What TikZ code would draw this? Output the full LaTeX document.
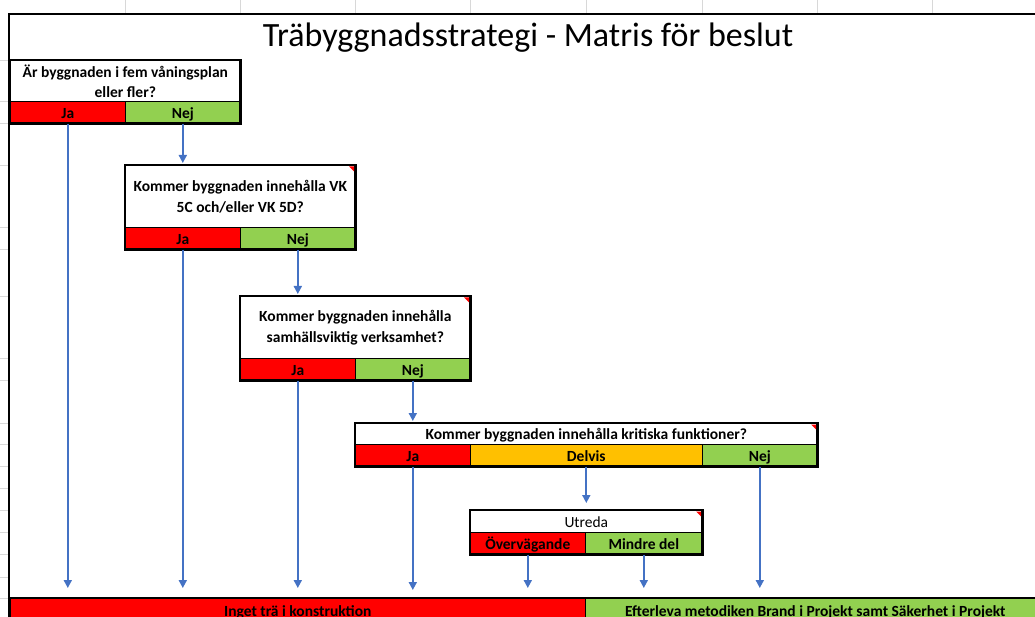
\documentclass[tikz,border=0pt]{standalone}
\usepackage{fontspec}
\setmainfont{Carlito}
\usetikzlibrary{arrows.meta,calc}
\definecolor{xred}{HTML}{FF0000}
\definecolor{xgreen}{HTML}{92D050}
\definecolor{xorange}{HTML}{FFC000}
\definecolor{xblue}{HTML}{4472C4}
\definecolor{xgrid}{HTML}{D8D8D8}
\begin{document}
\begin{tikzpicture}[x=1pt,y=-1pt,
 cell/.style={draw=black, line width=0.6pt, inner sep=0pt, anchor=north west,
   text height=12pt, text depth=0pt,
   font=\fontsize{15.5}{17}\selectfont\bfseries, text=black},
 qcell/.style={draw=black, line width=0.6pt, inner sep=0pt, anchor=north west,
   fill=white, align=center, text=black, font=\fontsize{15.5}{21}\selectfont\bfseries},
 frame/.style={draw=black, line width=2.4pt},
 arr/.style={draw=xblue, line width=1.8pt, -{Triangle[width=8pt,length=8pt]}},
 flag/.style={fill=xred},
 gridl/.style={draw=xgrid, line width=0.8pt}]
\useasboundingbox (0,0) rectangle (1035,617);
% spreadsheet grid ticks
\foreach \x in {125,240,355,470,586,702,817,932} \draw[gridl] (\x,0) -- (\x,13);
\foreach \y in {60,101,123,165,227,249,296,358,380,423,444,466,488,510,532,554,577,598} \draw[gridl] (0,\y) -- (8,\y);
% outer frame
\draw[line width=2pt] (9,640) -- (9,14) -- (1035,14);
% title
\node[font=\fontsize{34}{40}\selectfont] (title) at (528,38) {Träbyggnadsstrategi - Matris för beslut};

% Box 1
\node[qcell, minimum width=230pt, minimum height=41pt, font=\fontsize{15.5}{20}\selectfont\bfseries] (q1) at (10,60) {Är byggnaden i fem våningsplan\\eller fler?};
\node[cell, fill=xred, minimum width=115pt, minimum height=22pt] (q1ja) at (10,101) {Ja};
\node[cell, fill=xgreen, minimum width=115pt, minimum height=22pt] (q1nej) at (125,101) {Nej};
\draw[frame] (q1.north west) rectangle (q1nej.south east);

% Box 2
\node[qcell, minimum width=230pt, minimum height=62pt] (q2) at (125,165) {Kommer byggnaden innehålla VK\\5C och/eller VK 5D?};
\node[cell, fill=xred, minimum width=115pt, minimum height=22pt] (q2ja) at (125,227) {Ja};
\node[cell, fill=xgreen, minimum width=115pt, minimum height=22pt] (q2nej) at (240,227) {Nej};
\draw[frame] (q2.north west) rectangle (q2nej.south east);
\fill[flag] ($(q2.north east)+(-1.5,1.5)$) -- ++(-5,0) -- ++(5,5) -- cycle;

% Box 3
\node[qcell, minimum width=230pt, minimum height=62pt] (q3) at (240,296) {Kommer byggnaden innehålla\\samhällsviktig verksamhet?};
\node[cell, fill=xred, minimum width=115pt, minimum height=22pt] (q3ja) at (240,358) {Ja};
\node[cell, fill=xgreen, minimum width=115pt, minimum height=22pt] (q3nej) at (355,358) {Nej};
\draw[frame] (q3.north west) rectangle (q3nej.south east);
\fill[flag] ($(q3.north east)+(-1.5,1.5)$) -- ++(-5,0) -- ++(5,5) -- cycle;

% Box 4
\node[cell, fill=white, minimum width=462pt, minimum height=21pt] (q4) at (355,423) {Kommer byggnaden innehålla kritiska funktioner?};
\node[cell, fill=xred, minimum width=115pt, minimum height=22pt] (q4ja) at (355,444) {Ja};
\node[cell, fill=xorange, minimum width=232pt, minimum height=22pt] (q4del) at (470,444) {Delvis};
\node[cell, fill=xgreen, minimum width=115pt, minimum height=22pt] (q4nej) at (702,444) {Nej};
\draw[frame] (q4.north west) rectangle (q4nej.south east);
\fill[flag] ($(q4.north east)+(-1.5,1.5)$) -- ++(-5,0) -- ++(5,5) -- cycle;

% Box 5
\node[cell, fill=white, minimum width=232pt, minimum height=22pt, font=\fontsize{15.5}{17}\selectfont] (q5) at (470,510) {Utreda};
\node[cell, fill=xred, minimum width=115pt, minimum height=22pt] (q5ov) at (470,532) {Övervägande};
\node[cell, fill=xgreen, minimum width=117pt, minimum height=22pt] (q5mi) at (585,532) {Mindre del};
\draw[frame] (q5.north west) rectangle (q5mi.south east);
\fill[flag] ($(q5.north east)+(-1.5,1.5)$) -- ++(-5,0) -- ++(5,5) -- cycle;

% Bottom outcomes
\node[cell, fill=xred, minimum width=575pt, minimum height=24pt] (bred) at (10,598) {Inget trä i konstruktion};
\node[cell, fill=xgreen, minimum width=460pt, minimum height=24pt] (bgreen) at (585,598) {Efterleva metodiken Brand i Projekt samt Säkerhet i Projekt};
\draw[line width=1.8pt] (bred.north west) -- (1035,598);

% Connectors
\draw[arr] (q1ja.south) -- ($(bred.north -| q1ja.south)+(0,-10)$);
\draw[arr] (q1nej.south) -- ($(q2.north -| q1nej.south)+(0,-2)$);
\draw[arr] (q2ja.south) -- ($(bred.north -| q2ja.south)+(0,-10)$);
\draw[arr] (q2nej.south) -- ($(q3.north -| q2nej.south)+(0,-2)$);
\draw[arr] (q3ja.south) -- ($(bred.north -| q3ja.south)+(0,-10)$);
\draw[arr] (q3nej.south) -- ($(q4.north -| q3nej.south)+(0,-2)$);
\draw[arr] (q4ja.south) -- ($(bred.north -| q4ja.south)+(0,-8)$);
\draw[arr] (q4del.south) -- ($(q5.north -| q4del.south)+(0,-7)$);
\draw[arr] (q5ov.south) -- ($(bred.north -| q5ov.south)+(0,-10)$);
\draw[arr] (q5mi.south) -- ($(bgreen.north -| q5mi.south)+(0,-10)$);
\draw[arr] (q4nej.south) -- ($(bgreen.north -| q4nej.south)+(0,-10)$);
\end{tikzpicture}
\end{document}
